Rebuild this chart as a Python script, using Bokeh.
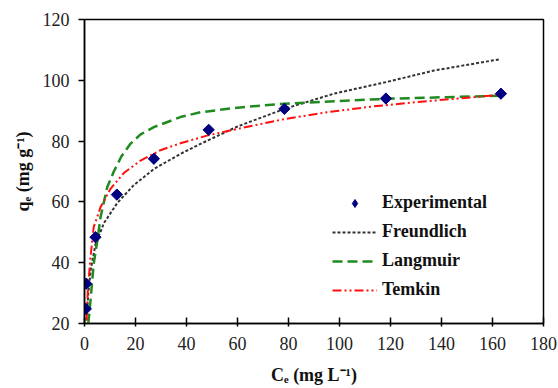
import math
from bokeh.plotting import figure
from bokeh.models import Range1d, Legend, LegendItem, FixedTicker
from bokeh.embed import file_html
from bokeh.resources import INLINE

# Experimental data
exp_c = [0.5, 0.7, 4.3, 12.7, 27.2, 48.7, 78.4, 118.2, 163.3]
exp_q = [24.8, 33.1, 48.4, 62.4, 74.2, 83.7, 90.6, 94.0, 95.6]

# Model curves
fr_c = [0.8, 1.5, 2.5, 4.3, 7.6, 12.8, 19.3, 27.2, 37.6, 45.5, 60, 78.4, 97.8, 118.2, 137, 162.7]
fr_q = [21, 30, 38, 46, 53, 59.6, 65.5, 70.8, 75.8, 79.1, 84.8, 90.6, 95.6, 99.4, 103.2, 106.9]

la_c = [1.5, 2.4, 3.6, 5, 6.3, 8.9, 11.5, 14.5, 18, 22, 27.2, 37.6, 45.5, 60, 78.4, 100, 118.2, 140, 163]
la_q = [20, 28, 39.6, 47, 55, 64.8, 70, 75, 79.1, 82.2, 84.6, 87.9, 89.5, 91, 92.3, 93.2, 93.9, 94.4, 94.9]

te_c = [0.8, 1.3, 2.35, 3.6, 6.3, 10.2, 15.4, 22, 29.8, 37.6, 48, 59.9, 78.2, 95, 112, 130, 145, 163]
te_q = [21, 30.9, 41.8, 51.7, 58.3, 64.3, 69.5, 73.6, 77.0, 79.3, 81.8, 84.0, 87.2, 89.5, 91.3, 92.8, 93.9, 95.2]

x_ticks = [0, 20, 40, 60, 80, 100, 120, 140, 160, 180]
y_ticks = [20, 40, 60, 80, 100, 120]

FONT = "Liberation Serif"

p = figure(width=558, height=388, x_range=Range1d(0, 180), y_range=Range1d(20, 120),
           output_backend="svg", toolbar_location=None,
           min_border_left=84, min_border_right=15, min_border_top=19, min_border_bottom=65)

p.grid.visible = False
p.outline_line_color = "black"
p.outline_line_width = 1.5
p.background_fill_color = "white"
p.border_fill_color = "white"

for ax in (p.xaxis[0], p.yaxis[0]):
    ax.axis_line_color = "black"
    ax.axis_line_width = 1.5
    ax.major_tick_line_color = "black"
    ax.major_tick_line_width = 1.5
    ax.minor_tick_line_color = None
    ax.major_label_text_font = FONT
    ax.major_label_text_font_size = "18px"
    ax.major_label_text_color = "#222222"
    ax.axis_label_text_font = FONT
    ax.axis_label_text_font_size = "18px"
    ax.axis_label_text_font_style = "bold"
    ax.axis_label_text_color = "#111111"

p.xaxis.ticker = FixedTicker(ticks=x_ticks)
p.yaxis.ticker = FixedTicker(ticks=y_ticks)
p.xaxis.major_tick_in = 6
p.xaxis.major_tick_out = 3
p.yaxis.major_tick_in = 0
p.yaxis.major_tick_out = 6
p.xaxis.major_label_standoff = 10
p.yaxis.major_label_standoff = 9
p.xaxis.axis_label = "Cₑ (mg L⁻¹)"
p.yaxis.axis_label = "qₑ (mg g⁻¹)"
p.xaxis.axis_label_standoff = 12
p.yaxis.axis_label_standoff = 7

r_fr = p.line(fr_c, fr_q, line_color="#333333", line_width=2, line_dash="3 2")
r_la = p.line(la_c, la_q, line_color="#1f8a1f", line_width=2.5, line_dash="10 5")
r_te = p.line(te_c, te_q, line_color="#ff1010", line_width=2, line_dash="9 3 2 3 2 3")
# experimental points: square turned 45 degrees (a regular diamond)
r_ex = p.scatter(exp_c, exp_q, marker="square", angle=math.pi / 4, size=8,
                 fill_color="#000080", line_color="#000080")
# same points as a narrow diamond hidden inside the above; used as the legend swatch
r_ex_key = p.scatter(exp_c, exp_q, marker="diamond", size=10,
                     fill_color="#000080", line_color="#000080")

legend = Legend(items=[
    LegendItem(label="Experimental", renderers=[r_ex_key]),
    LegendItem(label="Freundlich", renderers=[r_fr]),
    LegendItem(label="Langmuir", renderers=[r_la]),
    LegendItem(label="Temkin", renderers=[r_te]),
], location=(248, 23))
legend.border_line_alpha = 0
legend.background_fill_alpha = 0
legend.padding = 0
legend.margin = 0
legend.glyph_width = 45
legend.glyph_height = 20
legend.label_height = 20
legend.spacing = 8
legend.label_standoff = 5
legend.label_text_font = FONT
legend.label_text_font_size = "18px"
legend.label_text_font_style = "bold"
legend.label_text_color = "#111111"
p.add_layout(legend)

open("out.html", "w").write(file_html(p, INLINE))
